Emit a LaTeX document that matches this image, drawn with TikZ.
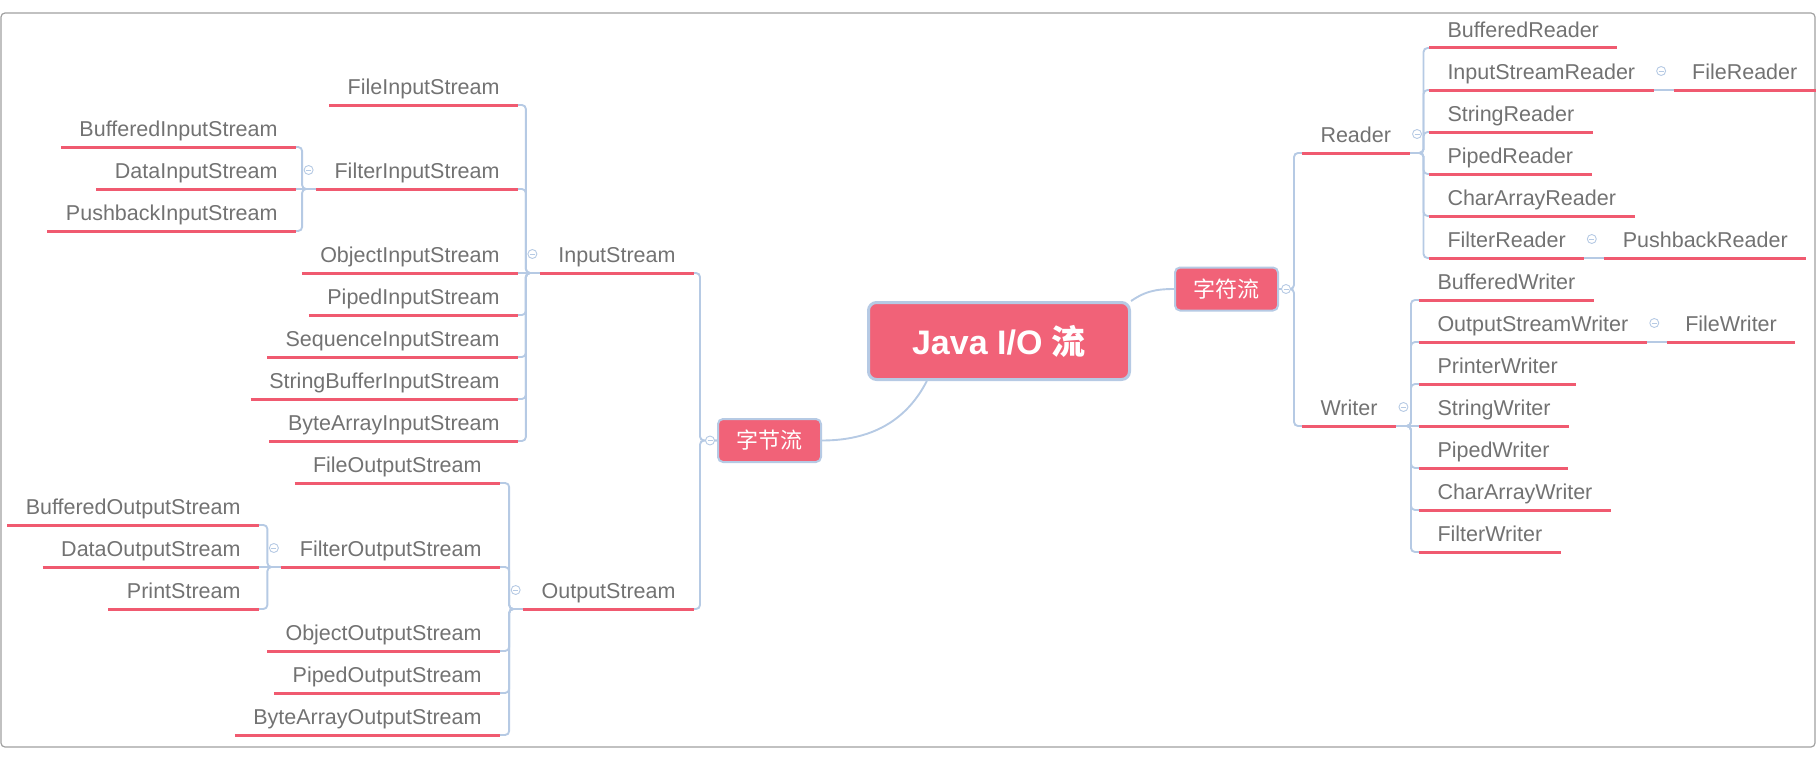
\documentclass[tikz,border=0pt]{standalone}
\usepackage{fontspec}
\setmainfont{Liberation Sans}
\newfontfamily\cjk{Noto Sans CJK SC}
\usetikzlibrary{backgrounds}

\definecolor{nodered}{HTML}{F16278}
\definecolor{ulred}{HTML}{F05A70}
\definecolor{linkblue}{HTML}{B6CAE4}
\definecolor{txtgray}{HTML}{727272}
\definecolor{framegray}{HTML}{A0A0A0}

\begin{document}
\begin{tikzpicture}[x=1pt, y=-1pt,
    topic/.style={rectangle, rounded corners=8pt, fill=nodered, draw=linkblue, line width=3pt,
        text=white, font=\bfseries\fontsize{34}{40}\selectfont, minimum width=261pt, minimum height=77pt},
    branch/.style={rectangle, rounded corners=5pt, fill=nodered, draw=linkblue, line width=2pt,
        text=white, font=\cjk\fontsize{22}{26}\selectfont, minimum width=103pt, minimum height=43pt},
    uline/.style={draw=ulred, line width=3pt},
    leaf/.style={font=\fontsize{21.5}{24}\selectfont, text=txtgray, inner xsep=18.5pt, inner ysep=0pt,
        outer sep=0pt, text height=16pt, text depth=10.5pt,
        append after command={\pgfextra{\draw[uline] (\tikzlastnode.south west) -- (\tikzlastnode.south east);}}},
    leftleaf/.style={leaf, anchor=south east},
    rightleaf/.style={leaf, anchor=south west},
    link/.style={draw=linkblue, line width=1.9pt, rounded corners=4pt},
    fold/.style={circle, draw=linkblue, fill=white, line width=0.9pt, minimum size=9pt, inner sep=0pt,
        path picture={\draw[linkblue, line width=0.9pt]
            ([xshift=-2.5pt]path picture bounding box.center) -- ([xshift=2.5pt]path picture bounding box.center);}},
    outerframe/.style={draw=framegray, line width=1.2pt, rounded corners=4pt}]

    \useasboundingbox (0,0) rectangle (1817,760);
    \draw[outerframe] (1,13) rectangle (1815,747);

    % centre and the two branches
    \node[topic] (io) at (999,341) {Java I/O {\cjk 流}};
    \node[branch] (byte) at (769.5,440.5) {字节流};
    \node[branch] (char) at (1226.5,289) {字符流};

    % byte streams
    \node[leftleaf] (IS) at (694,273) {InputStream};
    \node[leftleaf] (OS) at (694,609) {OutputStream};

    \node[leftleaf] (fileIS) at (518,105) {FileInputStream};
    \node[leftleaf] (filterIS) at (518,189) {FilterInputStream};
    \node[leftleaf] (objectIS) at (518,273) {ObjectInputStream};
    \node[leftleaf] (pipedIS) at (518,315) {PipedInputStream};
    \node[leftleaf] (seqIS) at (518,357) {SequenceInputStream};
    \node[leftleaf] (sbufIS) at (518,399) {StringBufferInputStream};
    \node[leftleaf] (bytesIS) at (518,441) {ByteArrayInputStream};

    \node[leftleaf] (bufIS) at (296,147) {BufferedInputStream};
    \node[leftleaf] (dataIS) at (296,189) {DataInputStream};
    \node[leftleaf] (pushIS) at (296,231) {PushbackInputStream};

    \node[leftleaf] (fileOS) at (500,483) {FileOutputStream};
    \node[leftleaf] (filterOS) at (500,567) {FilterOutputStream};
    \node[leftleaf] (objectOS) at (500,651) {ObjectOutputStream};
    \node[leftleaf] (pipedOS) at (500,693) {PipedOutputStream};
    \node[leftleaf] (bytesOS) at (500,735) {ByteArrayOutputStream};

    \node[leftleaf] (bufOS) at (259,525) {BufferedOutputStream};
    \node[leftleaf] (dataOS) at (259,567) {DataOutputStream};
    \node[leftleaf] (printOS) at (259,609) {PrintStream};

    % char streams
    \node[rightleaf] (reader) at (1302,153) {Reader};
    \node[rightleaf] (writer) at (1302,426) {Writer};

    \node[rightleaf] (bufR) at (1429,48) {BufferedReader};
    \node[rightleaf] (isR) at (1429,90) {InputStreamReader};
    \node[rightleaf] (strR) at (1429,132) {StringReader};
    \node[rightleaf] (pipedR) at (1429,174) {PipedReader};
    \node[rightleaf] (charR) at (1429,216) {CharArrayReader};
    \node[rightleaf] (filterR) at (1429,258) {FilterReader};
    \node[rightleaf] (fileR) at ([xshift=20pt]isR.south east) {FileReader};
    \node[rightleaf] (pushR) at ([xshift=20pt]filterR.south east) {PushbackReader};

    \node[rightleaf] (bufW) at (1419,300) {BufferedWriter};
    \node[rightleaf] (osW) at (1419,342) {OutputStreamWriter};
    \node[rightleaf] (printW) at (1419,384) {PrinterWriter};
    \node[rightleaf] (strW) at (1419,426) {StringWriter};
    \node[rightleaf] (pipedW) at (1419,468) {PipedWriter};
    \node[rightleaf] (charW) at (1419,510) {CharArrayWriter};
    \node[rightleaf] (filterW) at (1419,552) {FilterWriter};
    \node[rightleaf] (fileW) at ([xshift=20pt]osW.south east) {FileWriter};

    \begin{scope}[on background layer]
        \draw[link] (io.209) .. controls +(-18,35) and +(55,0) .. (byte.east);
        \draw[link] (io.north east) .. controls +(12,-8) and +(-22,0) .. (char.west);

        \draw[link] (byte.west) -- ++(-17,0) |- (IS.south east);
        \draw[link] (byte.west) -- ++(-17,0) |- (OS.south east);

        \draw[link] (IS.south west) -- ++(-14,0) |- (fileIS.south east);
        \draw[link] (IS.south west) -- ++(-14,0) |- (filterIS.south east);
        \draw[link] (IS.south west) -- (objectIS.south east);
        \draw[link] (IS.south west) -- ++(-14,0) |- (pipedIS.south east);
        \draw[link] (IS.south west) -- ++(-14,0) |- (seqIS.south east);
        \draw[link] (IS.south west) -- ++(-14,0) |- (sbufIS.south east);
        \draw[link] (IS.south west) -- ++(-14,0) |- (bytesIS.south east);

        \draw[link] (filterIS.south west) -- ++(-14,0) |- (bufIS.south east);
        \draw[link] (filterIS.south west) -- (dataIS.south east);
        \draw[link] (filterIS.south west) -- ++(-14,0) |- (pushIS.south east);

        \draw[link] (OS.south west) -- ++(-14,0) |- (fileOS.south east);
        \draw[link] (OS.south west) -- ++(-14,0) |- (filterOS.south east);
        \draw[link] (OS.south west) -- ++(-14,0) |- (objectOS.south east);
        \draw[link] (OS.south west) -- ++(-14,0) |- (pipedOS.south east);
        \draw[link] (OS.south west) -- ++(-14,0) |- (bytesOS.south east);

        \draw[link] (filterOS.south west) -- ++(-14,0) |- (bufOS.south east);
        \draw[link] (filterOS.south west) -- (dataOS.south east);
        \draw[link] (filterOS.south west) -- ++(-14,0) |- (printOS.south east);

        \draw[link] (char.east) -- ++(15,0) |- (reader.south west);
        \draw[link] (char.east) -- ++(15,0) |- (writer.south west);

        \draw[link] (reader.south east) -- ++(14,0) |- (bufR.south west);
        \draw[link] (reader.south east) -- ++(14,0) |- (isR.south west);
        \draw[link] (reader.south east) -- ++(14,0) |- (strR.south west);
        \draw[link] (reader.south east) -- ++(14,0) |- (pipedR.south west);
        \draw[link] (reader.south east) -- ++(14,0) |- (charR.south west);
        \draw[link] (reader.south east) -- ++(14,0) |- (filterR.south west);
        \draw[link] (isR.south east) -- (fileR.south west);
        \draw[link] (filterR.south east) -- (pushR.south west);

        \draw[link] (writer.south east) -- ++(15,0) |- (bufW.south west);
        \draw[link] (writer.south east) -- ++(15,0) |- (osW.south west);
        \draw[link] (writer.south east) -- ++(15,0) |- (printW.south west);
        \draw[link] (writer.south east) -- (strW.south west);
        \draw[link] (writer.south east) -- ++(15,0) |- (pipedW.south west);
        \draw[link] (writer.south east) -- ++(15,0) |- (charW.south west);
        \draw[link] (writer.south east) -- ++(15,0) |- (filterW.south west);
        \draw[link] (osW.south east) -- (fileW.south west);
    \end{scope}

    % fold marks
    \node[fold] (fByte) at ([xshift=-7pt]byte.west) {};
    \node[fold] (fChar) at ([xshift=7pt]char.east) {};
    \node[fold] (fIS) at ([shift={(-7.5,-19)}]IS.south west) {};
    \node[fold] (fOS) at ([shift={(-7.5,-19)}]OS.south west) {};
    \node[fold] (fFilterIS) at ([shift={(-7.5,-19)}]filterIS.south west) {};
    \node[fold] (fFilterOS) at ([shift={(-7.5,-19)}]filterOS.south west) {};
    \node[fold] (fReader) at ([shift={(7.5,-19)}]reader.south east) {};
    \node[fold] (fWriter) at ([shift={(7.5,-19)}]writer.south east) {};
    \node[fold] (fIsR) at ([shift={(7.5,-19)}]isR.south east) {};
    \node[fold] (fFilterR) at ([shift={(7.5,-19)}]filterR.south east) {};
    \node[fold] (fOsW) at ([shift={(7.5,-19)}]osW.south east) {};

\end{tikzpicture}
\end{document}
